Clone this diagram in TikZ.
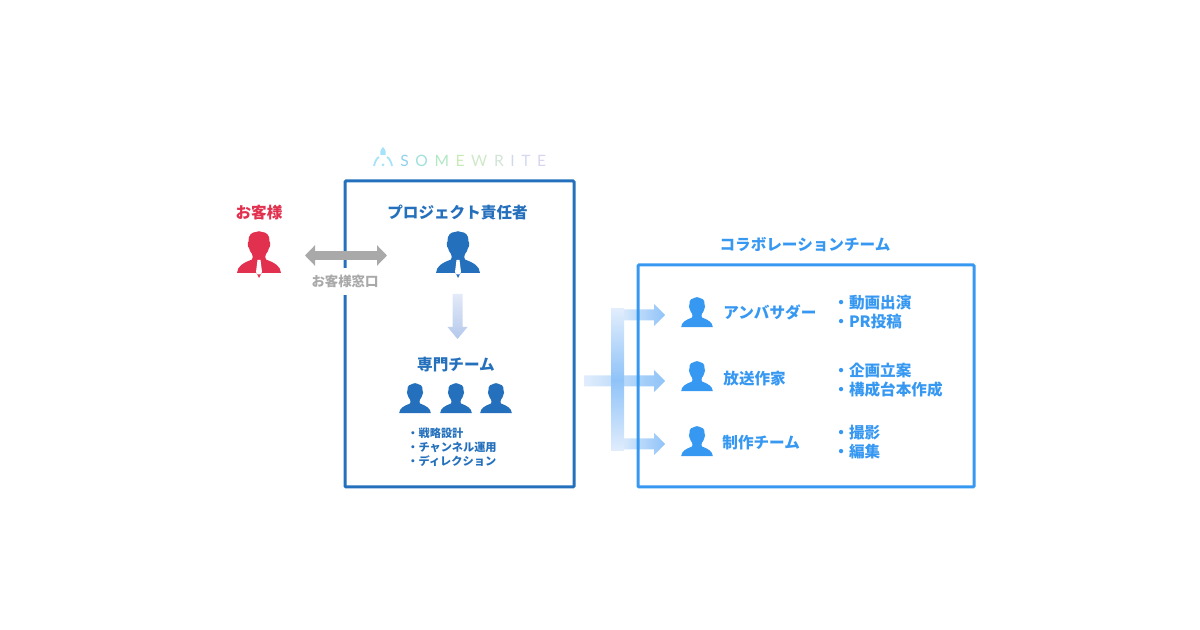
\documentclass[tikz,border=0pt]{standalone}
\usepackage{fontspec}
\setmainfont{Noto Sans CJK JP}
\newfontfamily\logofont{Lato}
\usetikzlibrary{arrows.meta,calc}
\definecolor{custRed}{HTML}{E2304F}
\definecolor{leadBlue}{HTML}{2470BC}
\definecolor{collabBlue}{HTML}{3798F2}
\definecolor{linkGray}{HTML}{A9A9A9}
\definecolor{fadeLight}{HTML}{E1EDFC}
\definecolor{fadeMid}{HTML}{8FC3F8}
\definecolor{dropLight}{HTML}{E3EAF8}
\definecolor{dropDark}{HTML}{B4C8EC}
\tikzset{
    title/.style={font=\bfseries\fontsize{7.8}{9}\selectfont},
    bullets/.style={font=\bfseries\fontsize{7.8}{9.5}\selectfont, text=collabBlue, align=left, anchor=west, inner sep=0pt},
    role/.style={title, text=collabBlue, anchor=west, inner sep=0pt},
    frame/.style={draw, line width=1.5pt, rounded corners=0.5pt},
    fan/.style={left color=fadeLight, right color=fadeMid},
    person/.pic={
        \fill (-22,42) .. controls (-21.5,35) and (-16,32) .. (-7,28.5)
            .. controls (-6,27) and (-6,25) .. (-7,23)
            .. controls (-8.5,21.5) and (-9.5,19) .. (-10,17)
            .. controls (-11.5,16) and (-11.5,11) .. (-10.5,10.5)
            .. controls (-11,4) and (-7,1) .. (-3,1)
            .. controls (-1,0) and (1,0) .. (3,1)
            .. controls (7,1) and (11,4) .. (10.5,10.5)
            .. controls (11.5,11) and (11.5,16) .. (10,17)
            .. controls (9.5,19) and (8.5,21.5) .. (7,23)
            .. controls (6,25) and (6,27) .. (7,28.5)
            .. controls (16,32) and (21.5,35) .. (22,42) -- cycle;
    },
    suit/.pic={
        \pic {person};
        \fill (-2.5,42) -- (2.5,42) -- (0,47) -- cycle;
        \fill[white] (-1.5,29) -- (1.5,29) -- (3,41) -- (1.5,43.5) -- (-1.5,43.5) -- (-3,41) -- cycle;
    }
}
\newcommand{\fanarrow}[2]{
    \shade[fan] ($(#1)+(0,-5.5)$) -- ($(#2)+(-11,-5.5)$) -- ($(#2)+(-11,-11)$) -- (#2)
        -- ($(#2)+(-11,11)$) -- ($(#2)+(-11,5.5)$) -- ($(#1)+(0,5.5)$) -- cycle;
}
\newcommand{\logoch}[2]{\textcolor[HTML]{#1}{#2}\hspace{3.3pt}}
\begin{document}
\begin{tikzpicture}[x=0.5pt, y=-0.5pt]
    \useasboundingbox (0,0) rectangle (1200,630);

    % logo
    \fill[cyan!35!white] (383,147) .. controls (386,150) and (386,153) .. (385.5,155) -- (380.5,155) .. controls (380,153) and (380,150) .. (383,147) -- cycle;
    \draw[cyan!35!white, line width=0.9pt] (374,166) .. controls (375,161) and (377,158) .. (379,157);
    \draw[cyan!35!white, line width=0.9pt] (392,166) .. controls (391,161) and (389,158) .. (387,157);
    \fill[cyan!35!white] (383,165) circle (1.5);
    \node (logo) [anchor=west, inner sep=0pt, font=\logofont\fontsize{7.8}{9}\selectfont] at (400,160.5)
        {\logoch{8FD0EC}{S}\logoch{A0E0DC}{O}\logoch{B0E8C4}{M}\logoch{C8EAB8}{E}\logoch{CFE8C8}{W}\logoch{D0E4D8}{R}\logoch{D0D8EC}{I}\logoch{D4D8F0}{T}\textcolor[HTML]{D8D4F0}{E}};

    % client and project box
    \node (client) [title, text=custRed] at (259,213) {お客様};
    \pic[fill=custRed] (clientIcon) at (259,231) {suit};
    \draw[frame, leadBlue] (345,181) rectangle (574,487);
    \node (windowLabel) [fill=white, text=linkGray, inner xsep=1pt, minimum height=13pt, font=\bfseries\fontsize{6.7}{8}\selectfont] at (345,281.5) {お客様窓口};

    \node (lead) [title, text=leadBlue] at (457.5,213) {プロジェクト責任者};
    \pic[fill=leadBlue] (leadIcon) at (458,231) {suit};

    \coordinate (linkL) at (305,255.5);
    \coordinate (linkR) at (387,255.5);
    \draw[linkGray, line width=4.6pt, {Triangle[length=5pt,width=10pt]}-{Triangle[length=5pt,width=10pt]}] (linkL) -- (linkR);

    \coordinate (dropTop) at (457.5,294);
    \coordinate (dropEnd) at (457.5,339);
    \shade[top color=dropLight, bottom color=dropDark] ($(dropTop)+(-5,0)$) -- ($(dropEnd)+(-5,-12)$) -- ($(dropEnd)+(-10,-12)$) -- (dropEnd)
        -- ($(dropEnd)+(10,-12)$) -- ($(dropEnd)+(5,-12)$) -- ($(dropTop)+(5,0)$) -- cycle;

    \node (team) [title, text=leadBlue] at (456,365) {専門チーム};
    \foreach \px/\name in {415/a, 456/b, 496/c}
        \pic[fill=leadBlue, scale=0.72] (team\name) at (\px,383) {person};
    \node (teamList) [anchor=west, align=left, inner sep=0pt, text=leadBlue, font=\bfseries\fontsize{5.6}{7}\selectfont] at (407,447)
        {・戦略設計\\・チャンネル運用\\・ディレクション};

    % arrows to collaboration team
    \coordinate (fanStart) at (584,381);
    \coordinate (spineTop) at (617.5,309);
    \coordinate (spineEnd) at (617.5,451);
    \coordinate (tipA) at (665,315);
    \coordinate (tipB) at (665,381);
    \coordinate (tipC) at (665,444);
    \fanarrow{fanStart}{tipB}
    \fanarrow{spineTop |- tipA}{tipA}
    \fanarrow{spineEnd |- tipC}{tipC}
    \shade[top color=fadeLight, bottom color=fadeLight, middle color=fadeMid] ($(spineTop)+(-6.5,0)$) rectangle ($(spineEnd)+(6.5,0)$);

    % collaboration box
    \node (collab) [title, text=collabBlue] at (805,245) {コラボレーションチーム};
    \draw[frame, collabBlue] (638,265) rectangle (974,487);

    \pic[fill=collabBlue, scale=0.72] (iconA) at (697,297) {person};
    \pic[fill=collabBlue, scale=0.72] (iconB) at (697,361) {person};
    \pic[fill=collabBlue, scale=0.72] (iconC) at (697,426) {person};
    \node (roleA) [role] at (723,312) {アンバサダー};
    \node (roleB) [role] at (723,379) {放送作家};
    \node (roleC) [role] at (722,443) {制作チーム};
    \node (taskA) [bullets] at (833,312.5) {・動画出演\\・PR投稿};
    \node (taskB) [bullets] at (833,380.5) {・企画立案\\・構成台本作成};
    \node (taskC) [bullets] at (833,442.5) {・撮影\\・編集};
\end{tikzpicture}
\end{document}
